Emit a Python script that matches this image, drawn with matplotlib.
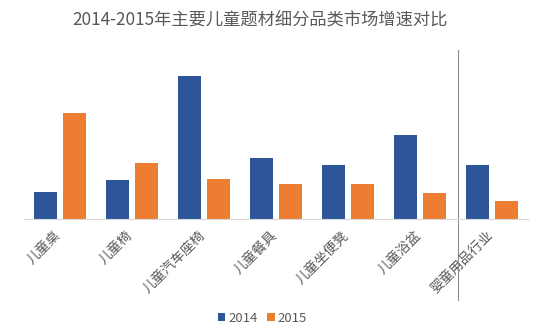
import numpy as np
import matplotlib.pyplot as plt
from matplotlib.transforms import blended_transform_factory

plt.rcParams['font.family'] = ['Noto Sans CJK SC', 'DejaVu Sans']

categories = ["儿童桌", "儿童椅", "儿童汽车座椅", "儿童餐具", "儿童坐便凳", "儿童浴盆", "婴童用品行业"]
growth_2014 = [27, 39, 143, 61, 54, 84, 54]
growth_2015 = [106, 56, 40, 35, 35, 26, 18]

BLUE = "#2E5597"
ORANGE = "#ED7D31"
GRAY = "#595959"

fig = plt.figure(figsize=(5.55, 3.31), dpi=100, facecolor="white")
ax = fig.add_axes([24 / 555, 112 / 331, 504 / 555, 159 / 331])

x = np.arange(len(categories))
w = 0.32
ax.bar(x - 0.205, growth_2014, w, color=BLUE, label="2014")
ax.bar(x + 0.205, growth_2015, w, color=ORANGE, label="2015")

ax.set_xlim(-0.5, len(categories) - 0.5)
ax.set_ylim(0, 159)
ax.set_yticks([])
for side in ("top", "right", "left"):
    ax.spines[side].set_visible(False)
ax.spines["bottom"].set_color("#d9d9d9")
ax.spines["bottom"].set_linewidth(0.8)

ax.set_xticks(x - 0.08)
ax.set_xticklabels(categories, rotation=45, ha="right", va="top",
                   rotation_mode="anchor", fontsize=9.8, color=GRAY)
ax.tick_params(axis="x", length=0, pad=7)

# separator between the sub-categories and the whole industry
trans = blended_transform_factory(ax.transData, ax.transAxes)
ax.plot([5.53, 5.53], [1.063, -0.509], transform=trans, color="#8c8c8c",
        linewidth=0.8, clip_on=False)

fig.text(260 / 555, 0.937, "2014-2015年主要儿童题材细分品类市场增速对比",
         ha="center", va="center", fontsize=12.4, color=GRAY)

fig.legend(loc="center", bbox_to_anchor=(262 / 555, 1 - 318 / 331), ncol=2,
           frameon=False, fontsize=9.5, handlelength=0.6, handleheight=0.6,
           handletextpad=0.2, columnspacing=0.7, labelcolor=GRAY)

fig.savefig("out.png", dpi=100, facecolor="white")
